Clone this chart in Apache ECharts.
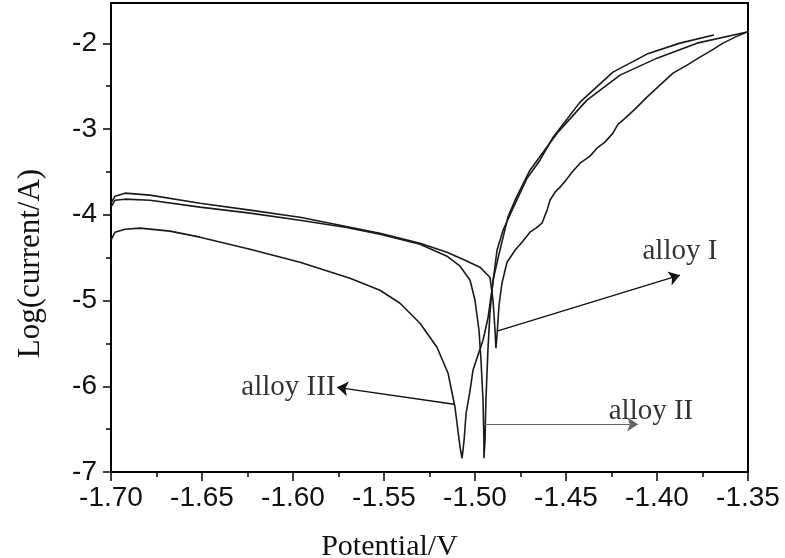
<!DOCTYPE html>
<html><head><meta charset="utf-8">
<script src="https://cdn.jsdelivr.net/npm/echarts@6/dist/echarts.min.js"></script>
<style>html,body{margin:0;padding:0;background:#fff}#c{width:785px;height:558px}</style>
</head><body><div id="c"></div>
<script>
// Axis settings
const xMin = -1.70, xMax = -1.35, xStep = 0.05;
const yMin = -7, yMax = -1.53, yStep = 1;
const yTickTop = -2;   // last labelled tick

// alloy I (Ecorr ~ -1.488 V)
const curve1V = [-1.7000,-1.6978,-1.6923,-1.6786,-1.6511,-1.6236,-1.5962,-1.5714,-1.5522,-1.5302,-1.5154,-1.5055,-1.4973,-1.4918,-1.4901,-1.4890,-1.4885,
  -1.4879,-1.4868,-1.4852,-1.4824,-1.4780,-1.4742,-1.4698,-1.4665,-1.4632,-1.4604,-1.4588,-1.4560,-1.4533,-1.4500,-1.4467,-1.4423,-1.4368,-1.4330,-1.4286,-1.4242,-1.4214,-1.4187,-1.4121,-1.4055,-1.3984,-1.3912,-1.3835,-1.3764,-1.3698,-1.3637,-1.3571,-1.3505];
const curve1L = [-3.865,-3.783,-3.748,-3.771,-3.865,-3.946,-4.028,-4.133,-4.215,-4.331,-4.436,-4.530,-4.611,-4.728,-4.997,-5.347,-5.557,
  -5.405,-5.055,-4.798,-4.553,-4.413,-4.320,-4.203,-4.156,-4.098,-3.946,-3.830,-3.736,-3.678,-3.596,-3.503,-3.398,-3.316,-3.223,-3.153,-3.048,-2.943,-2.896,-2.768,-2.628,-2.488,-2.348,-2.254,-2.161,-2.079,-1.998,-1.928,-1.869];

// alloy II (Ecorr ~ -1.495 V)
const curve2V = [-1.7000,-1.6978,-1.6923,-1.6786,-1.6511,-1.6236,-1.5962,-1.5714,-1.5522,-1.5302,-1.5154,-1.5082,-1.5027,-1.5000,-1.4978,-1.4967,-1.4956,-1.4951,-1.4951,
  -1.4945,-1.4940,-1.4929,-1.4918,-1.4901,-1.4863,-1.4819,-1.4780,-1.4698,-1.4549,-1.4385,-1.4203,-1.4000,-1.3780,-1.3505];
const curve2L = [-3.911,-3.830,-3.818,-3.830,-3.911,-3.981,-4.063,-4.145,-4.226,-4.343,-4.483,-4.600,-4.763,-4.997,-5.347,-5.697,-6.163,-6.630,-6.840,
  -6.630,-6.163,-5.580,-5.148,-4.763,-4.413,-4.028,-3.830,-3.480,-3.048,-2.663,-2.371,-2.173,-1.998,-1.869];

// alloy III (Ecorr ~ -1.507 V)
const curve3V = [-1.7000,-1.6978,-1.6923,-1.6841,-1.6676,-1.6511,-1.6236,-1.5962,-1.5687,-1.5522,-1.5412,-1.5302,-1.5209,-1.5148,-1.5110,-1.5082,-1.5071,
  -1.5060,-1.5049,-1.5027,-1.5011,-1.4984,-1.4956,-1.4929,-1.4907,-1.4879,-1.4846,-1.4791,-1.4714,-1.4643,-1.4571,-1.4423,-1.4242,-1.4055,-1.3874,-1.3687];
const curve3L = [-4.296,-4.203,-4.168,-4.156,-4.191,-4.261,-4.401,-4.553,-4.740,-4.880,-5.032,-5.265,-5.545,-5.848,-6.245,-6.712,-6.840,
  -6.630,-6.315,-6.047,-5.813,-5.638,-5.463,-5.207,-4.880,-4.413,-4.180,-3.923,-3.573,-3.363,-3.095,-2.686,-2.336,-2.126,-1.998,-1.904];

// annotations
const labelNames = ['alloy I', 'alloy II', 'alloy III'];
const labelV = [-1.3874, -1.4033, -1.6025];
const labelL = [-4.43, -6.29, -6.01];
const arrowFromV = [-1.4879, -1.4945, -1.5115];
const arrowFromL = [-5.358, -6.443, -6.21];
const arrowToV = [-1.3874, -1.4104, -1.5758];
const arrowToL = [-4.705, -6.443, -6.012];
const arrowColors = ['#111', '#666', '#111'];

const zip = (a, b) => a.map((v, i) => [v, b[i]]);
const sans = 'Liberation Sans';
const serif = 'Liberation Serif';

// layout
const W = 785, H = 558;
const gLeft = 111, gRight = 37, gTop = 3, gBottom = 86;
const gH = H - gTop - gBottom;
const tickGridTop = gTop + (yMax - yTickTop) * gH / (yMax - yMin);

function arrow(i) {
  return {
    silent: true, animation: false,
    symbol: ['none', 'arrow'], symbolSize: 11,
    label: { show: false },
    lineStyle: { color: arrowColors[i], width: i === 1 ? 1 : 1.3, type: 'solid' },
    data: [[{ coord: [arrowFromV[i], arrowFromL[i]] }, { coord: [arrowToV[i], arrowToL[i]] }]]
  };
}

const lineStyle = { color: '#1a1a1a', width: 1.6 };
const chart = echarts.init(document.getElementById('c'));
chart.setOption({
  animation: false,
  backgroundColor: '#fff',
  grid: [
    { left: gLeft, right: gRight, top: gTop, bottom: gBottom, outerBoundsMode: 'none', containLabel: false,
      show: true, borderColor: '#000', borderWidth: 2, backgroundColor: 'transparent' },
    { left: gLeft, right: gRight, top: tickGridTop, bottom: gBottom, outerBoundsMode: 'none', containLabel: false, show: false }
  ],
  xAxis: [{
    type: 'value', gridIndex: 0, min: xMin, max: xMax, interval: xStep,
    name: 'Potential/V', nameLocation: 'middle', nameGap: 60,
    nameTextStyle: { fontFamily: serif, fontSize: 30, color: '#111', padding: [0, 80, 0, 0] },
    axisLine: { lineStyle: { color: '#000', width: 2 } },
    axisTick: { show: true, inside: false, length: 9, lineStyle: { color: '#000', width: 1.5 } },
    minorTick: { show: true, splitNumber: 2, length: 5, lineStyle: { color: '#000', width: 1.5 } },
    splitLine: { show: false }, minorSplitLine: { show: false },
    axisLabel: { fontFamily: sans, fontSize: 28, color: '#111', margin: 12, formatter: v => v.toFixed(2) }
  }, {
    type: 'value', gridIndex: 1, min: xMin, max: xMax, show: false
  }],
  yAxis: [{
    type: 'value', gridIndex: 0, min: yMin, max: yMax, interval: yStep,
    name: 'Log(current/A)', nameLocation: 'middle', nameGap: 65,
    nameTextStyle: { fontFamily: serif, fontSize: 31, color: '#111', padding: [0, 52, 0, 0] },
    axisLine: { lineStyle: { color: '#000', width: 2 } },
    axisTick: { show: false }, minorTick: { show: false },
    splitLine: { show: false }, minorSplitLine: { show: false },
    axisLabel: { show: false }
  }, {
    type: 'value', gridIndex: 1, min: yMin, max: yTickTop, interval: yStep,
    axisLine: { show: false },
    axisTick: { show: true, inside: false, length: 8, lineStyle: { color: '#000', width: 1.5 } },
    minorTick: { show: true, splitNumber: 2, length: 5, lineStyle: { color: '#000', width: 1.5 } },
    splitLine: { show: false }, minorSplitLine: { show: false },
    axisLabel: { fontFamily: sans, fontSize: 28, color: '#111', margin: 14, formatter: v => String(v) }
  }],
  series: [
    { type: 'line', name: 'alloy I', data: zip(curve1V, curve1L), showSymbol: false, lineStyle, markLine: arrow(0) },
    { type: 'line', name: 'alloy II', data: zip(curve2V, curve2L), showSymbol: false, lineStyle, markLine: arrow(1) },
    { type: 'line', name: 'alloy III', data: zip(curve3V, curve3L), showSymbol: false, lineStyle, markLine: arrow(2) },
    { type: 'scatter', silent: true, symbolSize: 0, itemStyle: { color: '#111' },
      data: labelNames.map((n, i) => ({ name: n, value: [labelV[i], labelL[i]] })),
      label: { show: true, position: [0, 0], align: 'center', verticalAlign: 'middle', formatter: '{b}',
        fontFamily: serif, fontSize: 29, color: '#000', textBorderWidth: 0 } }
  ]
});
</script></body></html>
